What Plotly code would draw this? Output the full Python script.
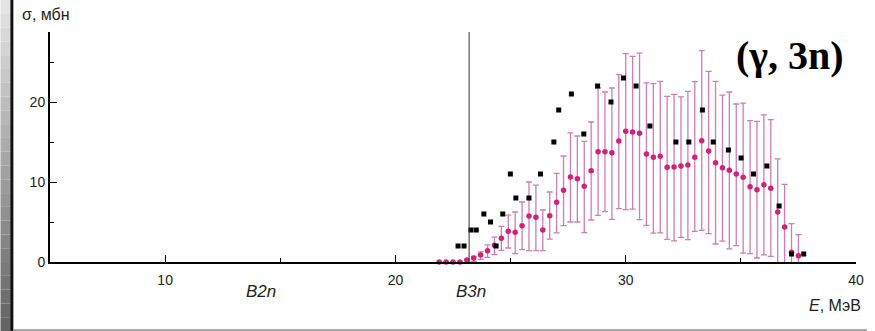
import plotly.graph_objects as go

# ---- data ----
E_pink = [21.9, 22.2, 22.5, 22.8, 23.1, 23.4, 23.7, 24.0, 24.3, 24.6,
          24.9, 25.2, 25.5, 25.8, 26.1, 26.4, 26.7, 27.0, 27.3, 27.6,
          27.9, 28.2, 28.5, 28.8, 29.1, 29.4, 29.7, 30.0, 30.3, 30.6,
          30.9, 31.2, 31.5, 31.8, 32.1, 32.4, 32.7, 33.0, 33.3, 33.6,
          33.9, 34.2, 34.5, 34.8, 35.1, 35.4, 35.7, 36.0, 36.3, 36.6,
          36.9, 37.2, 37.5]
sigma_pink = [0.0, 0.0, 0.0, 0.0, 0.25, 0.5, 0.88, 1.42, 2.08, 2.96,
              3.83, 3.71, 4.54, 5.75, 5.58, 4.0, 5.79, 7.46, 8.96, 10.63,
              10.42, 9.46, 11.42, 13.79, 13.79, 13.67, 15.13, 16.33, 16.25, 16.08,
              13.5, 13.08, 13.21, 11.83, 11.88, 12.0, 12.13, 13.08, 15.17, 13.88,
              12.42, 11.79, 11.46, 11.0, 10.58, 9.42, 9.04, 9.67, 9.21, 6.25,
              4.38, 1.21, 0.79]
err_up = [0.0, 0.0, 0.0, 0.0, 0.0, 0.21, 0.38, 0.71, 1.04, 1.5,
          2.04, 2.54, 2.96, 4.25, 4.04, 2.5, 2.96, 3.63, 4.29, 5.5,
          5.33, 5.63, 6.08, 7.96, 7.46, 8.08, 8.29, 9.71, 9.46, 10.04,
          8.88, 9.21, 9.38, 8.88, 9.08, 8.63, 9.21, 9.46, 11.25, 9.96,
          10.17, 9.08, 9.79, 8.75, 9.29, 8.25, 8.54, 8.71, 8.58, 6.63,
          5.33, 3.58, 2.63]
err_dn = [0.0, 0.0, 0.0, 0.0, 0.0, 0.42, 0.54, 0.83, 1.17, 1.5,
          2.08, 2.67, 3.0, 4.33, 4.17, 2.58, 2.92, 3.83, 4.42, 5.63,
          5.42, 5.79, 6.17, 7.96, 7.5, 8.33, 8.46, 9.79, 9.63, 10.79,
          8.92, 9.46, 9.58, 9.0, 9.25, 8.92, 9.33, 9.25, 11.21, 10.33,
          10.17, 9.17, 9.83, 8.96, 9.46, 8.38, 8.54, 8.79, 8.5, 6.63,
          5.33, 3.58, 2.63]

E_black = [22.72, 22.98, 23.28, 23.51, 23.84, 24.13, 24.37, 24.66, 24.99, 25.23,
           25.80, 26.30, 26.88, 27.09, 27.64, 28.18, 28.78, 29.36, 29.90, 30.45,
           31.05, 32.18, 32.74, 33.33, 33.80, 34.46, 35.01, 35.55, 36.13, 36.66,
           37.20, 37.73]
sigma_black = [2, 2, 4, 4, 6, 5, 2, 6, 11, 8,
               8, 11, 15, 19, 21, 16, 22, 20, 23, 22,
               17, 15, 15, 19, 15, 14, 13, 11, 12, 7,
               1, 1]

x_ticks = [10, 20, 30, 40]
y_ticks = [0, 10, 20]
B3n_energy = 23.2

X_RANGE = [5, 40]
Y_RANGE = [0, 28.75]

W, H = 875, 331
ML, MR, MT, MB = 50, 11, 32, 69
PW, PH = W - ML - MR, H - MT - MB

SANS = "Arial, Liberation Sans, sans-serif"
SERIF = "Times New Roman, Liberation Serif, serif"


def px(xp):
    return (xp - ML) / PW


def py(yp):
    return (H - MB - yp) / PH


fig = go.Figure()

# error bars (clipped to plot area)
fig.add_trace(go.Scatter(
    x=E_pink, y=sigma_pink, mode="markers",
    marker=dict(size=1, opacity=0),
    error_y=dict(type="data", symmetric=False, array=err_up, arrayminus=err_dn,
                 color="#cf7db5", thickness=1.3, width=3),
    showlegend=False, hoverinfo="skip"))

fig.add_trace(go.Scatter(
    x=E_pink, y=sigma_pink, mode="markers",
    marker=dict(size=5.5, color="#d4207a", symbol="circle"),
    cliponaxis=False, showlegend=False))

fig.add_trace(go.Scatter(
    x=E_black, y=sigma_black, mode="markers",
    marker=dict(size=5, color="#000000", symbol="square"),
    cliponaxis=False, showlegend=False))

shapes = []
# B3n threshold line
shapes.append(dict(type="line", xref="x", yref="y", x0=B3n_energy, x1=B3n_energy,
                   y0=Y_RANGE[0], y1=Y_RANGE[1], line=dict(color="#333333", width=1)))
# left gradient band
n = 24
for i in range(n):
    t = i / (n - 1)
    g = int(228 - t * (228 - 100))
    shapes.append(dict(type="rect", xref="paper", yref="paper",
                       x0=px(0), x1=px(10.5),
                       y0=py(H * (i + 1) / n), y1=py(H * i / n),
                       line=dict(width=0), fillcolor=f"rgb({g},{g},{g})", layer="below"))
shapes.append(dict(type="rect", xref="paper", yref="paper", x0=px(10), x1=px(13),
                   y0=py(H), y1=py(0), line=dict(width=0), fillcolor="#111111"))
# bottom gray line
shapes.append(dict(type="line", xref="paper", yref="paper", x0=px(13), x1=px(W),
                   y0=py(330), y1=py(330), line=dict(color="#a8a8a8", width=2)))

annotations = [
    dict(text="σ, мбн", xref="paper", yref="paper", x=px(20), y=py(15),
         xanchor="left", yanchor="middle", showarrow=False,
         font=dict(family=SANS, size=16, color="#222222")),
    dict(text="<i>B2n</i>", xref="paper", yref="paper", x=px(263), y=py(291),
         xanchor="center", yanchor="middle", showarrow=False,
         font=dict(family=SANS, size=17, color="#222222")),
    dict(text="<i>B3n</i>", xref="paper", yref="paper", x=px(475), y=py(291),
         xanchor="center", yanchor="middle", showarrow=False,
         font=dict(family=SANS, size=17, color="#222222")),
    dict(text="<i>E</i>, МэВ", xref="paper", yref="paper", x=px(871), y=py(305),
         xanchor="right", yanchor="middle", showarrow=False,
         font=dict(family=SANS, size=16, color="#222222")),
    dict(text="<b>(γ, 3n)</b>", xref="paper", yref="paper", x=px(797), y=py(56),
         xanchor="center", yanchor="middle", showarrow=False,
         font=dict(family=SERIF, size=40, color="#000000")),
]

fig.update_layout(
    width=W, height=H,
    margin=dict(l=ML, r=MR, t=MT, b=MB, pad=0),
    paper_bgcolor="white", plot_bgcolor="white",
    shapes=shapes, annotations=annotations,
    xaxis=dict(range=X_RANGE, showgrid=False, zeroline=False,
               showline=True, linecolor="#000000", linewidth=2,
               ticks="inside", ticklen=7, tickwidth=1, tickcolor="#000000",
               tickvals=x_ticks, ticktext=[str(v) for v in x_ticks],
               ticklabelstandoff=4,
               minor=dict(tickvals=[15, 25, 35], ticks="inside", ticklen=4,
                          tickcolor="#000000", tickwidth=1),
               tickfont=dict(family=SANS, size=14, color="#222222"),
               fixedrange=True),
    yaxis=dict(range=Y_RANGE, showgrid=False, zeroline=False,
               showline=True, linecolor="#000000", linewidth=2,
               ticks="inside", ticklen=7, tickwidth=1, tickcolor="#000000",
               tickvals=y_ticks, ticktext=[str(v) for v in y_ticks],
               minor=dict(tickvals=[5, 15, 25], ticks="inside", ticklen=4,
                          tickcolor="#000000", tickwidth=1),
               tickfont=dict(family=SANS, size=14, color="#222222"),
               fixedrange=True),
)

fig.write_html("out.html")
